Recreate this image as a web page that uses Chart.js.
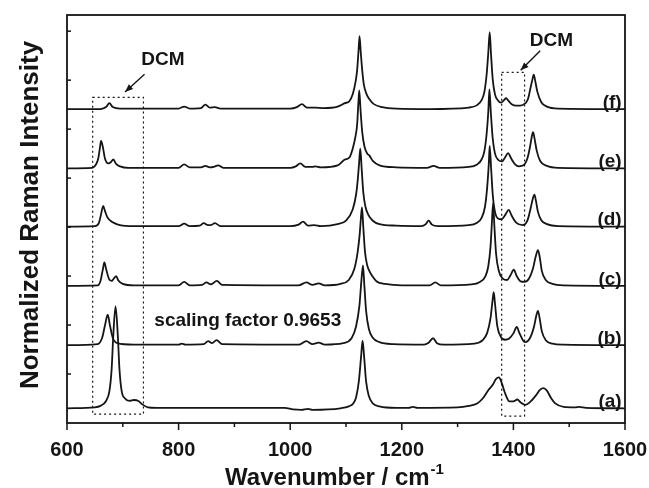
<!DOCTYPE html>
<html>
<head>
<meta charset="utf-8">
<script src="https://cdn.jsdelivr.net/npm/chart.js@4/dist/chart.umd.min.js"></script>
<style>
  html, body { margin: 0; padding: 0; background: #fff; }
  canvas { display: block; }
</style>
</head>
<body>
<canvas id="c" width="649" height="488"></canvas>
<script>
// ---------- DATA (wavenumber / cm-1, intensity above own baseline) ----------
const traceLabels = ['(a)', '(b)', '(c)', '(d)', '(e)', '(f)'];
const offsets = [0.30, 1.59, 2.80, 4.01, 5.20, 6.41];
const xTickValues = [600, 800, 1000, 1200, 1400, 1600];

const specA = [[600,0],[650,0.02],[660,0.05],[670,0.15],[676,0.35],[680,0.8],[683,1.5],[687,2.08],[691,1.5],[694,0.8],[698,0.35],[704,0.2],[712,0.15],[720,0.17],[728,0.15],[735,0.08],[745,0.02],[760,0.01],[990,0.01],[1005,-0.02],[1020,-0.03],[1032,-0.01],[1040,-0.03],[1090,0],[1105,0.04],[1113,0.1],[1118,0.22],[1123,0.55],[1127,1.05],[1129.7,1.38],[1132.5,1.05],[1136,0.55],[1141,0.25],[1148,0.1],[1160,0.04],[1190,0.01],[1212,0.01],[1220,0.03],[1228,0.01],[1300,0.02],[1320,0.05],[1335,0.1],[1345,0.2],[1355,0.37],[1363,0.48],[1369,0.6],[1374,0.63],[1379,0.52],[1385,0.31],[1393,0.14],[1400,0.14],[1407,0.18],[1413,0.12],[1421,0.07],[1430,0.13],[1440,0.26],[1448,0.38],[1454,0.41],[1460,0.36],[1467,0.22],[1475,0.1],[1490,0.03],[1510,0.02],[1518,0.03],[1530,0.01],[1600,0]];

const specB = [[600,0],[655,0.02],[663,0.15],[668,0.4],[673,0.62],[677,0.4],[682,0.15],[690,0.04],[720,0.01],[800,0.01],[806,0.03],[812,0.01],[845,0.02],[853,0.08],[860,0.04],[868,0.1],[878,0.02],[1015,0.01],[1029,0.08],[1040,0.02],[1051,0.05],[1062,0.01],[1095,0.04],[1110,0.14],[1118,0.38],[1124,0.8],[1127.5,1.3],[1130.4,1.63],[1133,1.2],[1136,0.7],[1141,0.33],[1148,0.15],[1160,0.06],[1185,0.02],[1240,0.01],[1248,0.05],[1256,0.14],[1263,0.04],[1275,0.01],[1330,0.03],[1345,0.1],[1353,0.25],[1359,0.55],[1362.5,0.9],[1364.7,1.08],[1367,0.85],[1371,0.4],[1377,0.18],[1385,0.11],[1392,0.13],[1400,0.24],[1406,0.37],[1411,0.24],[1417,0.1],[1421,0.06],[1430,0.15],[1437,0.38],[1441,0.6],[1444,0.7],[1447,0.55],[1451,0.28],[1458,0.1],[1470,0.03],[1490,0.01],[1600,0]];

const specC = [[600,0],[655,0.01],[660,0.1],[664,0.32],[667,0.48],[670,0.35],[675,0.15],[680,0.1],[684,0.15],[688,0.2],[692,0.11],[700,0.04],[720,0.01],[800,0.01],[810,0.08],[820,0.01],[842,0.02],[850,0.07],[858,0.03],[868.5,0.1],[878,0.02],[1015,0.01],[1029,0.07],[1040,0.02],[1051,0.05],[1062,0.01],[1090,0.04],[1105,0.12],[1115,0.35],[1121,0.7],[1124.5,1.05],[1126.5,1.35],[1128.6,1.6],[1131,1.2],[1134,0.7],[1138,0.42],[1142,0.3],[1147,0.2],[1155,0.09],[1170,0.04],[1200,0.01],[1250,0.01],[1260,0.07],[1270,0.01],[1325,0.03],[1340,0.08],[1350,0.2],[1355,0.4],[1359,0.8],[1361.5,1.3],[1363.6,1.69],[1366,1.2],[1369,0.65],[1374,0.3],[1381,0.15],[1388.7,0.12],[1395,0.22],[1400.6,0.33],[1406,0.2],[1413,0.09],[1420,0.08],[1428,0.15],[1435,0.35],[1440,0.6],[1444,0.73],[1447,0.6],[1451,0.3],[1458,0.12],[1470,0.04],[1490,0.01],[1600,0]];

const specD = [[600,0],[650,0.01],[657,0.07],[661,0.25],[663.5,0.38],[665,0.42],[668,0.32],[672,0.2],[678,0.12],[685,0.07],[695,0.03],[720,0.01],[800,0.01],[810,0.06],[820,0.01],[838,0.02],[845,0.07],[853,0.03],[858,0.03],[865,0.07],[875,0.01],[1000,0.01],[1015,0.04],[1023,0.1],[1032,0.02],[1043,0.03],[1055,0.01],[1085,0.05],[1100,0.12],[1112,0.35],[1118,0.65],[1121,0.95],[1123.5,1.3],[1125.6,1.59],[1128,1.2],[1131,0.7],[1135,0.4],[1140,0.24],[1148,0.12],[1160,0.05],[1190,0.02],[1235,0.01],[1243,0.05],[1248,0.12],[1254,0.04],[1265,0.01],[1320,0.03],[1335,0.08],[1343,0.18],[1349,0.4],[1353,0.8],[1356,1.3],[1357.5,1.65],[1360,1.2],[1363,0.65],[1367,0.3],[1373,0.16],[1378.5,0.15],[1386,0.25],[1391.6,0.34],[1397,0.22],[1405,0.08],[1417,0.03],[1425,0.12],[1431,0.38],[1435,0.58],[1437.7,0.65],[1440,0.55],[1444,0.3],[1450,0.13],[1460,0.05],[1480,0.01],[1600,0]];

const specE = [[600,0],[645,0.01],[652,0.08],[656,0.2],[659,0.42],[661,0.56],[664,0.45],[668,0.2],[674,0.1],[679,0.13],[683,0.18],[688,0.09],[695,0.04],[710,0.01],[800,0.01],[810,0.08],[820,0.02],[840,0.02],[848,0.05],[856,0.02],[863,0.03],[871,0.06],[880,0.01],[1000,0.01],[1010,0.04],[1018,0.1],[1027,0.03],[1040,0.03],[1045,0.04],[1055,0.02],[1085,0.06],[1098,0.18],[1106,0.22],[1112,0.4],[1117,0.65],[1120,0.9],[1122,1.3],[1123.8,1.59],[1126,1.2],[1129,0.75],[1133,0.45],[1138,0.3],[1142,0.26],[1148,0.15],[1160,0.06],[1190,0.02],[1245,0.01],[1257,0.05],[1268,0.01],[1320,0.03],[1335,0.08],[1343,0.18],[1348,0.35],[1352,0.7],[1355,1.15],[1357,1.61],[1359.5,1.15],[1363,0.6],[1367,0.3],[1373,0.17],[1379.6,0.14],[1385,0.22],[1390.5,0.31],[1396,0.2],[1403,0.08],[1410,0.04],[1418,0.06],[1425,0.2],[1430,0.45],[1433,0.65],[1435.3,0.74],[1438,0.6],[1442,0.35],[1448,0.15],[1460,0.05],[1480,0.01],[1600,0]];

const specF = [[600,0],[660,0],[670,0.04],[676,0.12],[682,0.04],[695,0.01],[800,0.01],[810,0.05],[820,0.01],[840,0.02],[848,0.09],[856,0.03],[865,0.04],[875,0.01],[1000,0.01],[1012,0.04],[1021,0.1],[1030,0.03],[1045,0.03],[1060,0.02],[1085,0.05],[1098,0.12],[1106,0.16],[1112,0.3],[1117,0.55],[1120,0.8],[1122.5,1.2],[1124.3,1.49],[1126.5,1.15],[1129,0.8],[1132,0.5],[1137,0.3],[1142,0.2],[1150,0.1],[1165,0.04],[1190,0.01],[1250,0],[1320,0.03],[1335,0.08],[1343,0.18],[1348,0.35],[1352,0.7],[1355,1.15],[1357.5,1.57],[1360,1.1],[1363,0.6],[1367,0.3],[1372,0.18],[1378,0.13],[1383,0.18],[1387,0.22],[1391,0.17],[1397,0.1],[1405,0.07],[1412,0.07],[1418,0.09],[1426,0.2],[1431,0.45],[1434,0.6],[1436.5,0.7],[1439,0.58],[1443,0.35],[1450,0.14],[1460,0.05],[1480,0.01],[1600,0]];

const spectra = [specA, specB, specC, specD, specE, specF];

// ---------- CHART ----------
const FONT = '"Liberation Sans", Arial, Helvetica, sans-serif';
const INK = '#151515';

const datasets = spectra.map((s, i) => ({
  label: traceLabels[i],
  data: s.map(([w, h]) => ({ x: w, y: h + offsets[i] })),
  borderColor: INK,
  borderWidth: 1.8,
  pointRadius: 0,
  fill: false,
  cubicInterpolationMode: 'monotone'
}));

function line(ctx, x1, y1, x2, y2) {
  ctx.beginPath(); ctx.moveTo(x1, y1); ctx.lineTo(x2, y2); ctx.stroke();
}

const overlay = {
  id: 'overlay',
  afterDraw(chart) {
    const { ctx, chartArea: a, scales: { x, y } } = chart;
    ctx.save();
    ctx.strokeStyle = INK;
    ctx.fillStyle = INK;

    // frame
    ctx.lineWidth = 1.8;
    ctx.strokeRect(a.left, a.top, a.right - a.left, a.bottom - a.top);

    // x ticks (major outward, minor shorter)
    ctx.lineWidth = 1.5;
    for (let v = 600; v <= 1600; v += 100) {
      const px = x.getPixelForValue(v);
      line(ctx, px, a.bottom, px, a.bottom + (v % 200 === 0 ? 7 : 4));
    }
    // y ticks (inward, no labels)
    for (let v = 1; v < y.max; v += 1) {
      const py = y.getPixelForValue(v);
      line(ctx, a.left, py, a.left + 4, py);
    }

    // dotted DCM boxes
    ctx.lineWidth = 1.2;
    ctx.setLineDash([2, 3]);
    const box = (w1, w2, v1, v2) => {
      const l = x.getPixelForValue(w1), r = x.getPixelForValue(w2);
      const t = y.getPixelForValue(v2), b = y.getPixelForValue(v1);
      ctx.strokeRect(l, t, r - l, b - t);
    };
    box(646, 737, 0.18, 6.65);
    box(1379, 1420, 0.14, 7.16);
    ctx.setLineDash([]);

    // arrows
    const arrow = (w1, v1, w2, v2) => {
      const x1 = x.getPixelForValue(w1), y1 = y.getPixelForValue(v1);
      const x2 = x.getPixelForValue(w2), y2 = y.getPixelForValue(v2);
      ctx.lineWidth = 1.4;
      line(ctx, x1, y1, x2, y2);
      const ang = Math.atan2(y2 - y1, x2 - x1);
      const L = 8, W = 3.2;
      ctx.beginPath();
      ctx.moveTo(x2, y2);
      ctx.lineTo(x2 - L * Math.cos(ang) + W * Math.sin(ang), y2 - L * Math.sin(ang) - W * Math.cos(ang));
      ctx.lineTo(x2 - L * Math.cos(ang) - W * Math.sin(ang), y2 - L * Math.sin(ang) + W * Math.cos(ang));
      ctx.closePath();
      ctx.fill();
    };
    arrow(739, 7.12, 704, 6.76);
    arrow(1448, 7.6, 1413, 7.2);

    // texts
    ctx.textAlign = 'center';
    ctx.textBaseline = 'middle';
    ctx.font = `bold 19px ${FONT}`;
    ctx.fillText('DCM', x.getPixelForValue(772), y.getPixelForValue(7.41));
    ctx.fillText('DCM', x.getPixelForValue(1468), y.getPixelForValue(7.8));
    ctx.fillText('scaling factor 0.9653', x.getPixelForValue(924), y.getPixelForValue(2.09));

    ctx.textAlign = 'right';
    ctx.font = `bold 19px ${FONT}`;
    traceLabels.forEach((t, i) => {
      ctx.fillText(t, x.getPixelForValue(1594), y.getPixelForValue(offsets[i] + 0.13));
    });

    // axis titles
    ctx.textAlign = 'left';
    ctx.textBaseline = 'alphabetic';
    ctx.font = `bold 24px ${FONT}`;
    const main = 'Wavenumber / cm';
    const w1 = ctx.measureText(main).width;
    ctx.font = `bold 15px ${FONT}`;
    const w2 = ctx.measureText('-1').width;
    const cx = 334, startX = cx - (w1 + w2) / 2, baseY = 485;
    ctx.font = `bold 24px ${FONT}`;
    ctx.fillText(main, startX, baseY);
    ctx.font = `bold 15px ${FONT}`;
    ctx.fillText('-1', startX + w1 + 1, baseY - 11);

    ctx.translate(31, 215);
    ctx.rotate(-Math.PI / 2);
    ctx.textAlign = 'center';
    ctx.textBaseline = 'middle';
    ctx.font = `bold 26px ${FONT}`;
    ctx.fillText('Normalized Raman Intensity', 0, 0);
    ctx.restore();
  }
};

new Chart(document.getElementById('c'), {
  type: 'line',
  data: { datasets },
  options: {
    responsive: false,
    animation: false,
    events: [],
    layout: { padding: { left: 0, right: 24, top: 15, bottom: 0 } },
    scales: {
      x: {
        type: 'linear', min: 600, max: 1600,
        grid: { display: false },
        border: { display: false },
        afterBuildTicks: s => { s.ticks = xTickValues.map(v => ({ value: v })); },
        ticks: {
          autoSkip: false, maxRotation: 0, padding: 7,
          callback: v => String(v),
          color: INK, font: { family: FONT, size: 20, weight: 'bold' }
        },
        afterFit: s => { s.height = 65; s.paddingLeft = 0; s.paddingRight = 0; }
      },
      y: {
        type: 'linear', min: 0, max: 8.33,
        grid: { display: false },
        border: { display: false },
        ticks: { display: false },
        afterFit: s => { s.width = 67; s.paddingTop = 0; s.paddingBottom = 0; }
      }
    },
    plugins: { legend: { display: false }, tooltip: { enabled: false } }
  },
  plugins: [overlay]
});
</script>
</body>
</html>
